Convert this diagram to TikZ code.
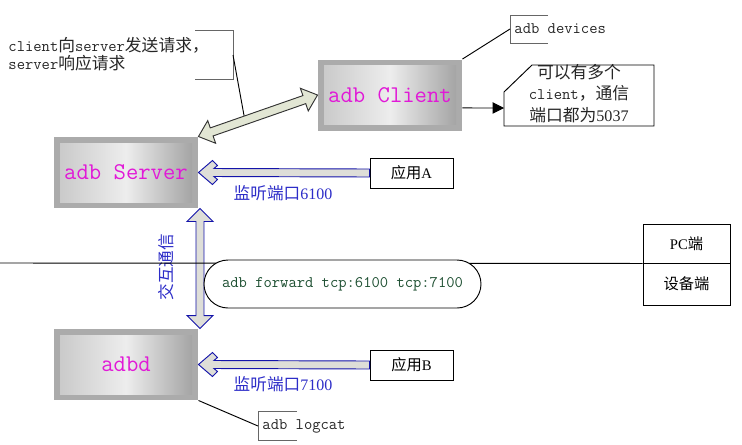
\documentclass[tikz,border=0pt]{standalone}
\usepackage{fontspec}
\setmainfont{Liberation Serif}
\newfontfamily\cjk[Scale=1.04]{Noto Sans CJK SC}
\newcommand\zh[1]{{\cjk #1}}
\usetikzlibrary{calc,arrows.meta}
\definecolor{adbmagenta}{RGB}{225,25,215}
\definecolor{portblue}{RGB}{45,45,200}
\definecolor{arrowblue}{RGB}{20,20,170}
\definecolor{cmdgreen}{RGB}{30,80,50}
\definecolor{fatfill}{RGB}{226,230,212}
\definecolor{shaftfill}{RGB}{222,222,216}
\tikzset{
  bevelbox/.style={fill=black!33, minimum width=108pt, minimum height=53.25pt, inner sep=0pt,
    text=adbmagenta, font=\ttfamily\fontsize{18}{20}\selectfont,
    path picture={\shade[left color=black!22, right color=black!38, middle color=black!7]
      ([shift={(4.5pt,4.5pt)}]path picture bounding box.south west) rectangle
      ([shift={(-4.5pt,-4.5pt)}]path picture bounding box.north east);}},
  appbox/.style={draw, fill=white, minimum width=62.25pt, minimum height=22.5pt, inner sep=0pt,
    font=\rmfamily\fontsize{11}{13}\selectfont},
  sidebox/.style={draw, minimum width=65.25pt, inner sep=0pt, font=\rmfamily\fontsize{11}{13}\selectfont},
  note/.style={inner sep=0pt, text=black!85, font=\ttfamily\fontsize{12.1}{13.5}\selectfont},
  bracket/.style={draw=black!60},
  portlabel/.style={inner sep=0pt, text=portblue, font=\rmfamily\fontsize{12}{14}\selectfont},
  pill/.style={draw, fill=white, rounded corners=18pt, minimum width=207.75pt, minimum height=36pt,
    text=cmdgreen, font=\ttfamily\fontsize{12.1}{13}\selectfont},
  fatblue/.style={draw=arrowblue, fill=shaftfill, line join=miter},
  fatgreen/.style={draw=black!80, fill=fatfill, line join=miter}
}
\begin{document}
\begin{tikzpicture}[x=0.75pt,y=-0.75pt,line width=0.7pt]
\useasboundingbox (0,0) rectangle (742,444);

\node[bevelbox] (server) at (126,172.5) {adb Server};
\node[bevelbox] (client) at (390,95) {adb Client};
\node[bevelbox] (adbd) at (126,364.5) {adbd};

\node[appbox] (appA) at (411.5,173) {\zh{应用}A};
\node[appbox] (appB) at (411.5,365) {\zh{应用}B};
\node[sidebox,minimum height=29.25pt] (pc) at (686.5,243.5) {PC\zh{端}};
\node[sidebox,minimum height=31.5pt] (dev) at (686.5,284) {\zh{设备端}};

\node[note,anchor=west,align=left] (ask) at (8,54) {client\zh{向}server\zh{发送请求，}\\server\zh{响应请求}};
\draw[bracket] (195,30) -| (233,79) -- (195,79);
\coordinate (askpin) at (233,55);
\coordinate (askend) at ($(server.north east)!0.39!(client.west)$);
\draw (askpin) -- (askend);

\node[note,anchor=west,inner xsep=3pt] (devices) at (510,29) {adb devices};
\draw[bracket] (548,15) -- (510,15) -- (510,43) -- (548,43);
\draw (client.north east) -- (devices.west);

\node[note,align=center,font=\ttfamily\fontsize{12.1}{16}\selectfont] (many) at (579,93.5)
  {\zh{可以有多个}\\client\zh{，通信}\\\zh{端口都为}{\rmfamily 5037}};
\draw (504,92) -- (532,65) -- (654,65) -- (654,126) -- (504,126) -- cycle;
\coordinate (cout) at ($(client.south east)!0.32!(client.north east)$);
\coordinate (manyin) at (504,108);
\draw[-{Triangle[length=8.5pt,width=8.5pt]}] (cout) -- (manyin);

\node[note,anchor=west,inner xsep=3pt] (logcat) at (258,426) {adb logcat};
\draw[bracket] (297,411) -- (258,411) -- (258,440) -- (297,440);
\draw (adbd.south east) -- (logcat.west);

\coordinate (hA) at ($(server.north east)!10.5pt!(client.west)$);
\coordinate (hB) at ($(client.west)!10.5pt!(server.north east)$);
\draw[fatgreen] (server.north east) -- ($(hA)!9pt!90:(client.west)$) -- ($(hA)!3.2pt!90:(client.west)$)
  -- ($(hB)!3.2pt!-90:(server.north east)$) -- ($(hB)!9pt!-90:(server.north east)$) -- (client.west)
  -- ($(hB)!9pt!90:(server.north east)$) -- ($(hB)!3.2pt!90:(server.north east)$)
  -- ($(hA)!3.2pt!-90:(client.west)$) -- ($(hA)!9pt!-90:(client.west)$) -- cycle;

\draw[fatblue] (server.east) -- ++(14,-12) -- ++(5,5) -- ++(-3.5,3) -- ($(appA.west)+(0,-4)$) -- ++(0,8)
  -- ($(server.east)+(15.5,4)$) -- ++(3.5,3) -- ++(-5,5) -- cycle;
\draw[fatblue] (adbd.east) -- ++(14,-12) -- ++(5,5) -- ++(-3.5,3) -- ($(appB.west)+(0,-4)$) -- ++(0,8)
  -- ($(adbd.east)+(15.5,4)$) -- ++(3.5,3) -- ++(-5,5) -- cycle;

\coordinate (vt) at ($(server.south east)+(1.5,0)$);
\coordinate (vb) at ($(adbd.north east)+(1.5,0)$);
\draw[fatblue] (vt) -- ++(13,13) -- ++(-9,0) -- ($(vb)+(4,-13)$) -- ++(9,0) -- (vb) -- ++(-13,-13)
  -- ++(9,0) -- ($(vt)+(-4,13)$) -- ++(-9,0) -- cycle;

\node[portlabel] (portA) at (283,193.5) {\zh{监听端口}6100};
\node[portlabel] (portB) at (283,384.5) {\zh{监听端口}7100};
\node[portlabel,rotate=90,font=\cjk\fontsize{12}{14}\selectfont] (talk) at (166,267) {交互通信};

\coordinate (lineL) at (0,263);
\draw (lineL) -- (pc.south west);
\node[pill] (fwd) at (342.5,284) {adb forward tcp:6100 tcp:7100};
\end{tikzpicture}
\end{document}
